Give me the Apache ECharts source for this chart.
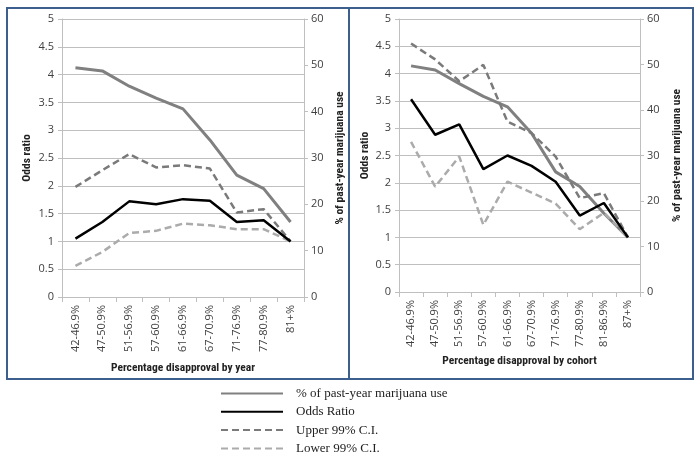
<!DOCTYPE html>
<html>
<head>
<meta charset="utf-8">
<script src="https://cdn.jsdelivr.net/npm/echarts@6/dist/echarts.min.js"></script>
<style>
  html, body { margin: 0; padding: 0; background: #fff; }
  #chart { width: 700px; height: 461px; }
</style>
</head>
<body>
<div id="chart"></div>
<script>
// categories
const yearCats = ['42-46.9%', '47-50.9%', '51-56.9%', '57-60.9%', '61-66.9%', '67-70.9%', '71-76.9%', '77-80.9%', '81+%']
const cohortCats = ['42-46.9%', '47-50.9%', '51-56.9%', '57-60.9%', '61-66.9%', '67-70.9%', '71-76.9%', '77-80.9%', '81-86.9%', '87+%']

// by year (left panel)
const yearUse = [49.5, 48.8, 45.5, 42.9, 40.6, 33.9, 26.3, 23.4, 16.2]
const yearOdds = [1.05, 1.35, 1.72, 1.67, 1.76, 1.73, 1.35, 1.38, 1.0]
const yearUpper = [1.98, 2.28, 2.57, 2.33, 2.37, 2.31, 1.52, 1.58, 1.0]
const yearLower = [0.56, 0.81, 1.15, 1.19, 1.32, 1.29, 1.22, 1.22, 1.0]

// by cohort (right panel)
const cohortUse = [49.7, 48.8, 45.8, 43.0, 40.7, 34.9, 26.4, 23.2, 17.3, 12.0]
const cohortOdds = [3.53, 2.88, 3.07, 2.25, 2.5, 2.31, 2.02, 1.4, 1.63, 1.0]
const cohortUpper = [4.55, 4.26, 3.86, 4.16, 3.12, 2.91, 2.48, 1.72, 1.81, 1.0]
const cohortLower = [2.75, 1.93, 2.48, 1.23, 2.02, 1.82, 1.62, 1.15, 1.45, 1.0]

const leftTicks = { min: 0, max: 5, interval: 0.5 }
const rightTicks = { min: 0, max: 60, interval: 10 }

const FONT = 'Open Sans'
const NAME_FONT = '"Liberation Sans Narrow", "Roboto Condensed", Roboto, sans-serif'
const axisGray = '#bfbfbf'
const labelColor = '#404040'

const names = {
  use: '% of past-year marijuana use',
  odds: 'Odds Ratio',
  upper: 'Upper 99% C.I.',
  lower: 'Lower 99% C.I.'
}

const styles = {
  use: { color: '#808080', width: 3, type: 'solid' },
  odds: { color: '#000000', width: 2.5, type: 'solid' },
  upper: { color: '#7a7a7a', width: 2.5, type: [7, 4] },
  lower: { color: '#ababab', width: 2.5, type: [7, 4] }
}

const nameStyle = { fontFamily: NAME_FONT, fontWeight: 'bold', fontSize: 11.5, color: '#222' }

const chart = echarts.init(document.getElementById('chart'))

const makeX = (gridIndex, cats, title) => ({
  type: 'category',
  gridIndex: gridIndex,
  data: cats,
  boundaryGap: true,
  name: title,
  nameLocation: 'middle',
  nameGap: gridIndex === 0 ? 65 : 63,
  nameTextStyle: nameStyle,
  axisLine: { lineStyle: { color: axisGray } },
  axisTick: { show: true, length: 5, alignWithLabel: false, lineStyle: { color: axisGray } },
  axisLabel: { rotate: 90, fontFamily: FONT, fontSize: 11, color: labelColor, margin: 8, interval: 0 },
  splitLine: { show: false }
})

const makeYLeft = (gridIndex) => ({
  type: 'value',
  gridIndex: gridIndex,
  min: leftTicks.min,
  max: leftTicks.max,
  interval: leftTicks.interval,
  name: 'Odds ratio',
  nameLocation: 'middle',
  nameGap: gridIndex === 0 ? 29 : 28,
  nameTextStyle: nameStyle,
  axisLine: { show: true, lineStyle: { color: axisGray } },
  axisTick: { show: true, length: 4, lineStyle: { color: axisGray } },
  axisLabel: { fontFamily: FONT, fontSize: 11, color: labelColor, margin: 8 },
  splitLine: { show: true, lineStyle: { color: axisGray, width: 1 } }
})

const makeYRight = (gridIndex) => ({
  type: 'value',
  gridIndex: gridIndex,
  position: 'right',
  min: rightTicks.min,
  max: rightTicks.max,
  interval: rightTicks.interval,
  name: '% of past-year marijuana use',
  nameLocation: 'middle',
  nameGap: gridIndex === 0 ? 30 : 31,
  nameRotate: 90,
  nameTextStyle: nameStyle,
  axisLine: { show: true, lineStyle: { color: axisGray } },
  axisTick: { show: true, length: 4, lineStyle: { color: axisGray } },
  axisLabel: { fontFamily: FONT, fontSize: 11, color: labelColor, margin: 7 },
  splitLine: { show: false }
})

const makeSeries = (key, data, xIdx, yIdx) => ({
  name: names[key],
  type: 'line',
  xAxisIndex: xIdx,
  yAxisIndex: yIdx,
  data: data,
  symbol: 'none',
  smooth: false,
  lineStyle: styles[key],
  itemStyle: { color: styles[key].color },
  z: key === 'odds' ? 4 : 3
})

const option = {
  animation: false,
  backgroundColor: '#fff',
  grid: [
    { left: 62, right: 396, top: 19, bottom: 164 },
    { left: 399, right: 60, top: 19, bottom: 169 }
  ],
  xAxis: [
    makeX(0, yearCats, 'Percentage disapproval by year'),
    makeX(1, cohortCats, 'Percentage disapproval by cohort')
  ],
  yAxis: [
    makeYLeft(0),
    makeYRight(0),
    makeYLeft(1),
    makeYRight(1)
  ],
  legend: {
    orient: 'vertical',
    left: 220,
    top: 387,
    padding: 0,
    height: 80,
    itemWidth: 62,
    itemHeight: 12,
    itemGap: 5.3,
    itemStyle: { opacity: 0 },
    textStyle: { fontFamily: 'Liberation Serif', fontSize: 13, color: '#222', padding: [0, 0, 0, 8] },
    data: [names.use, names.odds, names.upper, names.lower]
  },
  graphic: [
    { type: 'rect', shape: { x: 7, y: 8, width: 342, height: 371 }, style: { fill: 'none', stroke: '#3d5f8e', lineWidth: 2 }, silent: true },
    { type: 'rect', shape: { x: 349, y: 8, width: 344, height: 371 }, style: { fill: 'none', stroke: '#3d5f8e', lineWidth: 2 }, silent: true }
  ],
  series: [
    makeSeries('use', yearUse, 0, 1),
    makeSeries('upper', yearUpper, 0, 0),
    makeSeries('lower', yearLower, 0, 0),
    makeSeries('odds', yearOdds, 0, 0),
    makeSeries('use', cohortUse, 1, 3),
    makeSeries('upper', cohortUpper, 1, 2),
    makeSeries('lower', cohortLower, 1, 2),
    makeSeries('odds', cohortOdds, 1, 2)
  ]
}

chart.setOption(option)
</script>
</body>
</html>
